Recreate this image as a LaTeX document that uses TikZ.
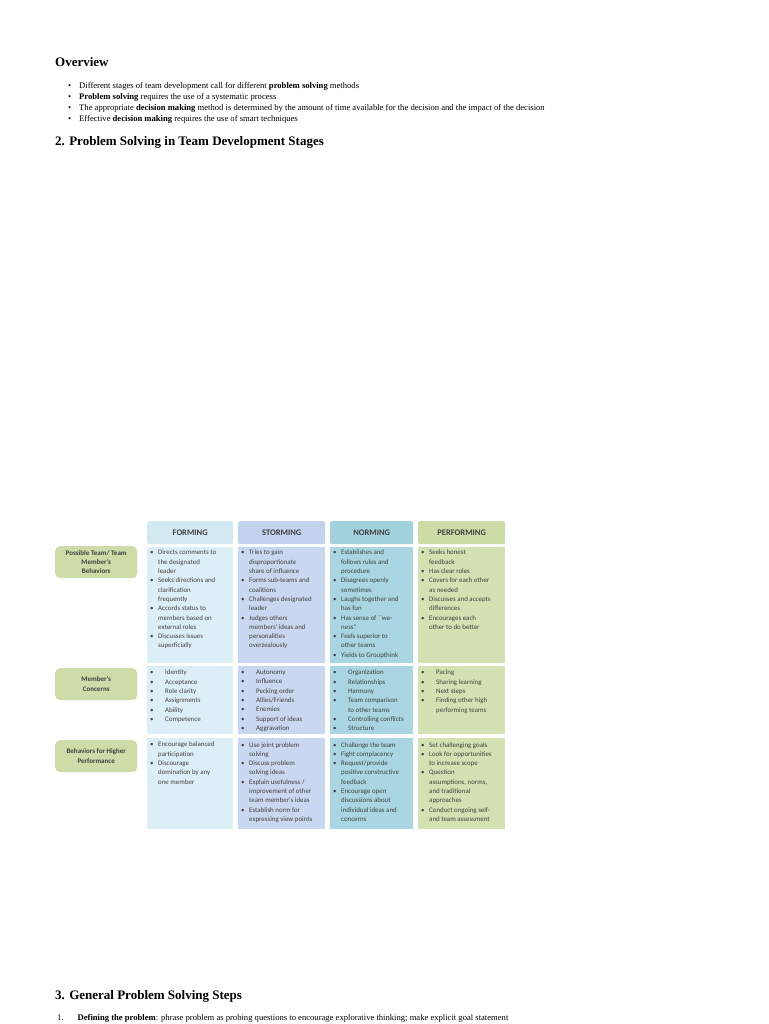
\documentclass[tikz,border=0pt]{standalone}
\usepackage{fontspec}
\setmainfont{Liberation Serif}
\newfontfamily\calfont{Carlito}
\definecolor{cF}{HTML}{DDEFF6}
\definecolor{cFh}{HTML}{D3E9F2}
\definecolor{cS}{HTML}{C9D8F0}
\definecolor{cSh}{HTML}{C3D3EE}
\definecolor{cN}{HTML}{A9D6E2}
\definecolor{cNh}{HTML}{A3D2DF}
\definecolor{cP}{HTML}{D3E1B3}
\definecolor{cPh}{HTML}{CBDCA6}
\definecolor{cL}{HTML}{CDDCA8}
\newcommand{\bl}{\makebox[8pt][l]{\textbullet}}
\newcommand{\cn}{\hspace*{8pt}}
\newcommand{\bw}{\makebox[15pt][l]{\textbullet}}
\newcommand{\cw}{\hspace*{15pt}}
\begin{document}
\begin{tikzpicture}[x=1pt,y=-1pt,
  hdr/.style={anchor=north west,minimum height=23pt,text=black!75,font=\calfont\fontsize{8.5}{10}\selectfont\bfseries,rounded corners=2pt},
  ctext/.style={anchor=north west,align=left,inner sep=0pt,text=black!75,font=\calfont\fontsize{6.9}{9.3}\selectfont},
  lab/.style={anchor=north west,fill=cL,rounded corners=5pt,minimum width=82pt,minimum height=32pt,align=center,inner sep=1pt,text=black!75,font=\calfont\fontsize{7}{9.3}\selectfont\bfseries},
  body/.style={anchor=base west,inner sep=0pt,font=\fontsize{8.6}{10}\selectfont},
  head/.style={anchor=base west,inner sep=0pt,font=\fontsize{13}{15}\selectfont\bfseries}]
\useasboundingbox (0,0) rectangle (768,1024);
\fill[white] (0,0) rectangle (768,1024);
\node[head] (ov) at (55,67) {Overview};
\node[body] (b1) at (68,89) {\textbullet\hspace{8pt}Different stages of team development call for different \textbf{problem solving} methods};
\node[body] (b2) at (68,100) {\textbullet\hspace{8pt}\textbf{Problem solving} requires the use of a systematic process};
\node[body] (b3) at (68,111) {\textbullet\hspace{8pt}The appropriate \textbf{decision making} method is determined by the amount of time available for the decision and the impact of the decision};
\node[body] (b4) at (68,122) {\textbullet\hspace{8pt}Effective \textbf{decision making} requires the use of smart techniques};
\node[head] (s2) at (55,146) {2. Problem Solving in Team Development Stages};
% headers
\node[hdr,fill=cFh,minimum width=86pt] (hF) at (147,521) {FORMING};
\node[hdr,fill=cSh,minimum width=87pt] (hS) at (238,521) {STORMING};
\node[hdr,fill=cNh,minimum width=83pt] (hN) at (330,521) {NORMING};
\node[hdr,fill=cPh,minimum width=87pt] (hP) at (418,521) {PERFORMING};
% cell backgrounds
\foreach \x/\w/\c in {147/86/cF,238/87/cS,330/83/cN,418/87/cP}{
  \fill[\c] (\x,547) rectangle ++(\w,116);
  \fill[\c] (\x,666) rectangle ++(\w,68);
  \fill[\c] (\x,738) rectangle ++(\w,91);
}
% labels
\node[lab] (l1) at (55,546) {Possible Team/ Team\\Member's\\Behaviors};
\node[lab] (l2) at (55,668) {Member's\\Concerns};
\node[lab] (l3) at (55,740) {Behaviors for Higher\\Performance};
% row 1
\node[ctext] (r1F) at (150,550) {\bl Directs comments to\\\cn the designated\\\cn leader\\\bl Seeks directions and\\\cn clarification\\\cn frequently\\\bl Accords status to\\\cn members based on\\\cn external roles\\\bl Discusses issues\\\cn superficially};
\node[ctext] (r1S) at (241,550) {\bl Tries to gain\\\cn disproportionate\\\cn share of influence\\\bl Forms sub-teams and\\\cn coalitions\\\bl Challenges designated\\\cn leader\\\bl Judges others\\\cn members' ideas and\\\cn personalities\\\cn overzealously};
\node[ctext] (r1N) at (333,550) {\bl Establishes and\\\cn follows rules and\\\cn procedure\\\bl Disagrees openly\\\cn sometimes\\\bl Laughs together and\\\cn has fun\\\bl Has sense of ``we-\\\cn ness''\\\bl Feels superior to\\\cn other teams\\\bl Yields to Groupthink};
\node[ctext] (r1P) at (421,550) {\bl Seeks honest\\\cn feedback\\\bl Has clear roles\\\bl Covers for each other\\\cn as needed\\\bl Discusses and accepts\\\cn differences\\\bl Encourages each\\\cn other to do better};
% row 2
\node[ctext] (r2F) at (150,670) {\bw Identity\\\bw Acceptance\\\bw Role clarity\\\bw Assignments\\\bw Ability\\\bw Competence};
\node[ctext] (r2S) at (241,670) {\bw Autonomy\\\bw Influence\\\bw Pecking order\\\bw Allies/Friends\\\bw Enemies\\\bw Support of ideas\\\bw Aggravation};
\node[ctext] (r2N) at (333,670) {\bw Organization\\\bw Relationships\\\bw Harmony\\\bw Team comparison\\\cw to other teams\\\bw Controlling conflicts\\\bw Structure};
\node[ctext] (r2P) at (421,670) {\bw Pacing\\\bw Sharing learning\\\bw Next steps\\\bw Finding other high\\\cw performing teams};
% row 3
\node[ctext] (r3F) at (150,742) {\bl Encourage balanced\\\cn participation\\\bl Discourage\\\cn domination by any\\\cn one member};
\node[ctext] (r3S) at (241,742) {\bl Use joint problem\\\cn solving\\\bl Discuss problem\\\cn solving ideas\\\bl Explain usefulness /\\\cn improvement of other\\\cn team member's ideas\\\bl Establish norm for\\\cn expressing view points};
\node[ctext] (r3N) at (333,742) {\bl Challenge the team\\\bl Fight complacency\\\bl Request/provide\\\cn positive constructive\\\cn feedback\\\bl Encourage open\\\cn discussions about\\\cn individual ideas and\\\cn concerns};
\node[ctext] (r3P) at (421,742) {\bl Set challenging goals\\\bl Look for opportunities\\\cn to increase scope\\\bl Question\\\cn assumptions, norms,\\\cn and traditional\\\cn approaches\\\bl Conduct ongoing self-\\\cn and team assessment};
\node[head] (s3) at (55,999) {3. General Problem Solving Steps};
\node[body] (st1) at (57,1020) {1.\hspace{14pt}\textbf{Defining the problem}: phrase problem as probing questions to encourage explorative thinking; make explicit goal statement};
\end{tikzpicture}
\end{document}
